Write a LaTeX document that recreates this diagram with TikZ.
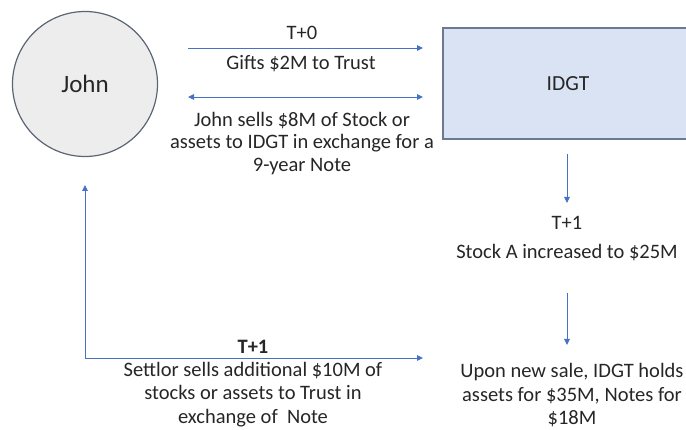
\documentclass[tikz,border=0pt]{standalone}
\usepackage{fontspec}
\setmainfont{Carlito}
\usetikzlibrary{arrows.meta}
\definecolor{flow}{HTML}{4472C4}
\definecolor{circfill}{HTML}{EDEDED}
\definecolor{circline}{HTML}{5B6574}
\definecolor{boxfill}{HTML}{DAE3F3}
\definecolor{boxline}{HTML}{6B7A90}
\definecolor{txt}{HTML}{262626}
\tikzset{
  flowarrow/.style={draw=flow, line width=0.9pt, -{Triangle[length=6pt,width=5.5pt]}},
  flowboth/.style={draw=flow, line width=0.9pt, {Triangle[length=6pt,width=5.5pt]}-{Triangle[length=6pt,width=5.5pt]}},
  lbl/.style={text=txt, align=center, inner sep=0pt, font=\fontsize{20.5}{22.5}\selectfont},
  lblwide/.style={lbl, font=\fontsize{20.5}{23.5}\selectfont},
}
\begin{document}
\begin{tikzpicture}[x=1pt, y=-1pt]
\useasboundingbox (0,0) rectangle (686,430);
% parties
\node[circle, draw=circline, fill=circfill, line width=1.2pt, minimum size=145pt, inner sep=0pt,
      text=txt, font=\fontsize{25}{28}\selectfont] (john) at (85,84) {John};
\begin{scope}
\clip (0,0) rectangle (686,430);
\node[rectangle, draw=boxline, fill=boxfill, line width=1.4pt, minimum width=250pt, minimum height=111pt,
      inner sep=0pt, text=txt, font=\fontsize{21.5}{24}\selectfont] (idgt) at (568,83.5) {IDGT};
\end{scope}
% T+0 transfers
\coordinate (g1) at (188,48);  \coordinate (g2) at (423,48);
\coordinate (s1) at (188,97);  \coordinate (s2) at (423,97);
\draw[flowarrow] (g1) -- (g2);
\draw[flowboth] (s1) -- (s2);
\node[lbl] (t0) at (302,33) {T+0};
\node[lbl] (gift) at (301,64) {Gifts \$2M to Trust};
\node[lbl, anchor=north] (sale) at (302,112) {John sells \$8M of Stock or\\assets to IDGT in exchange for a\\9-year Note};
% growth inside the trust
\coordinate (d1) at (567,154); \coordinate (d2) at (567,203);
\draw[flowarrow] (d1) -- (d2);
\node[lbl] (t1a) at (567,223) {T+1};
\node[lbl] (grow) at (567,253) {Stock A increased to \$25M};
\coordinate (e1) at (567,293); \coordinate (e2) at (567,345);
\draw[flowarrow] (e1) -- (e2);
\node[lblwide, anchor=north] (hold) at (572,363.5) {Upon new sale, IDGT holds\\assets for \$35M, Notes for\\\$18M};
% second sale
\coordinate (c0) at (85,358);
\coordinate (cu) at (85,185);
\coordinate (cr) at (423,358);
\draw[flowarrow] (c0) -- (cu);
\draw[flowarrow] (c0) -- (cr);
\node[lbl, font=\fontsize{20.5}{22.5}\selectfont\bfseries] (t1b) at (253,347) {T+1};
\node[lblwide, anchor=north] (resale) at (253,362) {Settlor sells additional \$10M of\\stocks or assets to Trust in\\exchange of~ Note};
\end{tikzpicture}
\end{document}
